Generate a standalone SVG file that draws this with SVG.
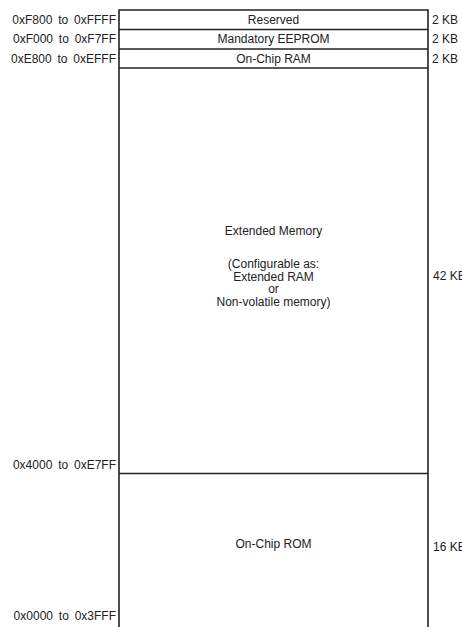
<svg xmlns="http://www.w3.org/2000/svg" width="462" height="627" viewBox="0 0 462 627">
<style>
text{font-family:"Liberation Sans",Arial,sans-serif;font-size:12px;fill:#222}
.a{text-anchor:end;word-spacing:2.5px}
.c{text-anchor:middle}
.line{stroke:#222;stroke-width:1.6;fill:none}
</style>
<rect width="462" height="627" fill="#fff"/>
<g id="connectors">
<path class="line" d="M119,640 V10 H428 V640"/>
</g>
<g id="reserved">
<line class="line" x1="119" y1="29.5" x2="428" y2="29.5"/>
<text class="c" x="273.5" y="24">Reserved</text>
<text class="a" x="116" y="24">0xF800 to 0xFFFF</text>
<text x="432" y="24">2 KB</text>
</g>
<g id="eeprom">
<line class="line" x1="119" y1="49" x2="428" y2="49"/>
<text class="c" x="273.5" y="43">Mandatory EEPROM</text>
<text class="a" x="116" y="43">0xF000 to 0xF7FF</text>
<text x="432" y="43">2 KB</text>
</g>
<g id="ram">
<line class="line" x1="119" y1="68" x2="428" y2="68"/>
<text class="c" x="273.5" y="63">On-Chip RAM</text>
<text class="a" x="116" y="63">0xE800 to 0xEFFF</text>
<text x="432" y="63">2 KB</text>
</g>
<g id="extended">
<line class="line" x1="119" y1="473.5" x2="428" y2="473.5"/>
<text class="c" x="273.5" y="235">Extended Memory</text>
<text class="c" x="273.5" y="268">(Configurable as:</text>
<text class="c" x="273.5" y="280.5">Extended RAM</text>
<text class="c" x="273.5" y="293">or</text>
<text class="c" x="273.5" y="305.5">Non-volatile memory)</text>
<text x="433" y="280">42 KB</text>
<text class="a" x="116" y="469">0x4000 to 0xE7FF</text>
</g>
<g id="rom">
<text class="c" x="273.5" y="548">On-Chip ROM</text>
<text x="433" y="551">16 KB</text>
<text class="a" x="116" y="620">0x0000 to 0x3FFF</text>
</g>
</svg>
